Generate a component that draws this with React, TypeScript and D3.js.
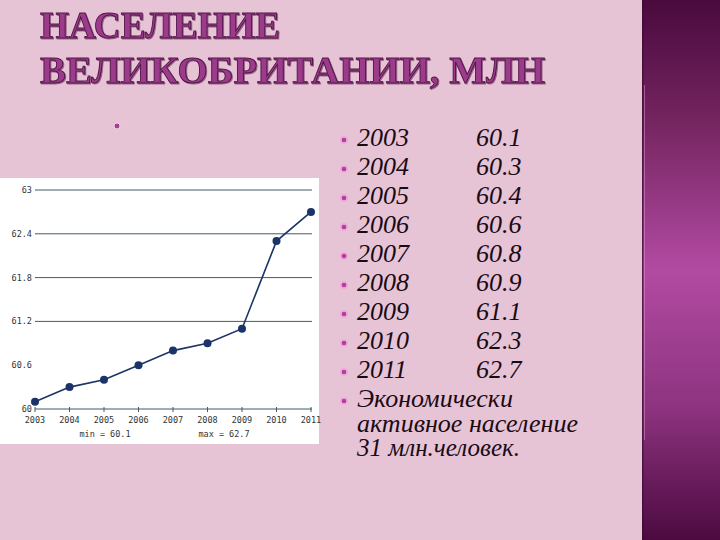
import React from "react";
import * as d3 from "d3";

const years = ["2003", "2004", "2005", "2006", "2007", "2008", "2009", "2010", "2011"];
const population = [60.1, 60.3, 60.4, 60.6, 60.8, 60.9, 61.1, 62.3, 62.7];
const yTickValues = [60, 60.6, 61.2, 61.8, 62.4, 63];
const gridValues = [61.2, 61.8, 62.4, 63];
const listValues = ["60.1", "60.3", "60.4", "60.6", "60.8", "60.9", "61.1", "62.3", "62.7"];
const titleLines = ["НАСЕЛЕНИЕ", "ВЕЛИКОБРИТАНИИ, МЛН"];
const noteLines = ["Экономически", "активное население", "31 млн.человек."];
const minLabel = "min = 60.1";
const maxLabel = "max = 62.7";

const W = 720;
const H = 540;

const serif = { fontFamily: '"Liberation Serif"' };
const mono = { fontFamily: '"DejaVu Sans Mono"' };

export default function App() {
  const x = d3.scalePoint<string>().domain(years).range([35, 311]);
  const y = d3.scaleLinear().domain([60, 63]).range([409, 190]);
  const line = d3
    .line<number>()
    .x((_, i) => x(years[i]) as number)
    .y((d) => y(d));

  const rowY = (i: number) => 146 + 29 * i;

  return (
    <svg
      width={W}
      height={H}
      style={{ position: "absolute", left: 0, top: 0, display: "block" }}
    >
      <defs>
        <linearGradient id="side" x1="0" y1="0" x2="0" y2="1">
          <stop offset="0" stopColor="#4a0a3e" />
          <stop offset="0.22" stopColor="#74245f" />
          <stop offset="0.5" stopColor="#b24aa2" />
          <stop offset="0.75" stopColor="#8e3480" />
          <stop offset="1" stopColor="#4c0a40" />
        </linearGradient>
        <filter id="tshadow" x="-5%" y="-20%" width="110%" height="140%">
          <feDropShadow dx="1" dy="1" stdDeviation="0.6" floodColor="#5a1a4e" floodOpacity="0.6" />
        </filter>
      </defs>
      <rect x={0} y={0} width={W} height={H} fill="#e6c4d6" />
      {/* right decorative panel */}
      <rect x={642} y={0} width={78} height={H} fill="url(#side)" />
      <rect x={642} y={0} width={1.5} height={H} fill="#3c0c34" opacity={0.7} />
      <line x1={644.5} x2={644.5} y1={85} y2={440} stroke="#e9a6d8" strokeWidth={1} opacity={0.45} />

      {/* title */}
      <g filter="url(#tshadow)">
        {titleLines.map((t, i) => (
          <text
            key={t}
            x={40}
            y={i === 0 ? 38 : 83}
            fontSize={38}
            fontWeight="bold"
            fill="#9c3a8c"
            stroke="#4e1444"
            strokeWidth={0.9}
            textLength={i === 0 ? 240 : 505}
            lengthAdjust="spacingAndGlyphs"
            style={serif}
          >
            {t}
          </text>
        ))}
      </g>

      {/* lone bullet */}
      <circle cx={117} cy={126} r={3} fill="#a3408f" stroke="#f3d3e6" strokeWidth={1} />

      {/* chart panel */}
      <rect x={0} y={178} width={319} height={266} fill="#ffffff" />
      <g>
        {gridValues.map((v) => (
          <line key={v} x1={35} x2={312} y1={y(v)} y2={y(v)} stroke="#3f5c68" strokeWidth={1} />
        ))}
        <line x1={35} x2={312} y1={y(60)} y2={y(60)} stroke="#3f5c68" strokeWidth={1} />
        {years.map((yr) => (
          <line
            key={yr}
            x1={x(yr) as number}
            x2={x(yr) as number}
            y1={y(60) - 2}
            y2={y(60) + 3}
            stroke="#3f5c68"
            strokeWidth={1}
          />
        ))}
        {yTickValues.map((v) => (
          <text key={v} x={32} y={y(v) + 3} textAnchor="end" fontSize={8.5} fill="#333" style={mono}>
            {d3.format("~g")(v)}
          </text>
        ))}
        {years.map((yr) => (
          <text key={yr} x={x(yr) as number} y={423} textAnchor="middle" fontSize={8.5} fill="#333" style={mono}>
            {yr}
          </text>
        ))}
        <text x={105} y={437} textAnchor="middle" fontSize={8.5} fill="#333" style={mono}>
          {minLabel}
        </text>
        <text x={224} y={437} textAnchor="middle" fontSize={8.5} fill="#333" style={mono}>
          {maxLabel}
        </text>
        <path d={line(population) || ""} fill="none" stroke="#1c3466" strokeWidth={1.6} />
        {population.map((v, i) => (
          <circle key={i} cx={x(years[i]) as number} cy={y(v)} r={4} fill="#1a3368" />
        ))}
      </g>

      {/* bullet list */}
      <g>
        {years.map((yr, i) => (
          <g key={yr}>
            <circle cx={344} cy={rowY(i) - 6} r={4} fill="#f2a7da" />
            <circle cx={344} cy={rowY(i) - 6} r={2.3} fill="#b0409c" />
            <text x={357} y={rowY(i)} fontSize={26} fontStyle="italic" fill="#1a0a14" style={serif}>
              {yr}
            </text>
            <text x={476} y={rowY(i)} fontSize={26} fontStyle="italic" fill="#1a0a14" style={serif}>
              {listValues[i]}
            </text>
          </g>
        ))}
        <circle cx={344} cy={rowY(9) - 6} r={4} fill="#f2a7da" />
        <circle cx={344} cy={rowY(9) - 6} r={2.3} fill="#b0409c" />
        {noteLines.map((t, i) => (
          <text
            key={t}
            x={357}
            y={rowY(9) + [0, 25, 49][i]}
            fontSize={26}
            fontStyle="italic"
            fill="#1a0a14"
            textLength={[156, 221, 163][i]}
            lengthAdjust="spacingAndGlyphs"
            style={serif}
          >
            {t}
          </text>
        ))}
      </g>
    </svg>
  );
}
